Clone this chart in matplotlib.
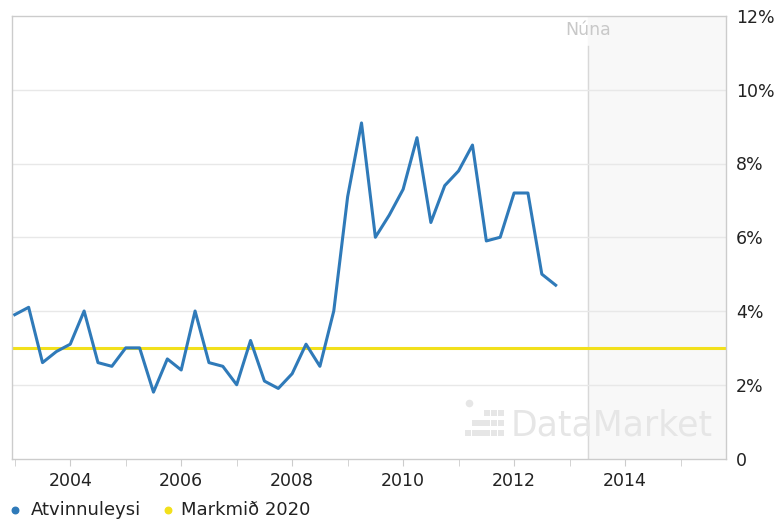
import matplotlib
matplotlib.use("Agg")
import matplotlib.pyplot as plt
import numpy as np

plt.rcParams['font.family'] = ['DejaVu Sans']

start_year = 2003.0
unemployment = [3.9, 4.1, 2.6, 2.9, 3.1, 4.0, 2.6, 2.5,
                3.0, 3.0, 1.8, 2.7, 2.4, 4.0, 2.6, 2.5,
                2.0, 3.2, 2.1, 1.9, 2.3, 3.1, 2.5, 4.0,
                7.1, 9.1, 6.0, 6.6, 7.3, 8.7, 6.4, 7.4,
                7.8, 8.5, 5.9, 6.0, 7.2, 7.2, 5.0, 4.7]
target_2020 = 3.0
now_year = 2013.33
x_range = (2002.95, 2015.82)
y_ticks = [0, 2, 4, 6, 8, 10, 12]
y_labels = ['0', '2%', '4%', '6%', '8%', '10%', '12%']
x_major = [2004, 2006, 2008, 2010, 2012, 2014]
x_minor = [2003, 2005, 2007, 2009, 2011, 2013, 2015]

dates = start_year + 0.25 * np.arange(len(unemployment))

W, H = 776, 521
fig = plt.figure(figsize=(W/100, H/100), dpi=100)
ax = fig.add_axes([12/W, 1 - 458.5/H, (726-12)/W, (458.5-16)/H])

blue = '#2f7ab9'
yellow = '#f2e01b'
text_c = '#222222'

ax.axvspan(now_year, x_range[1], color='#f8f8f8', zorder=0)
ax.plot([now_year, now_year], [0, 11.2], color='#d8d8d8', lw=1, zorder=1)
ax.text(now_year, 11.62, 'Núna', color='#c8c8c8', fontsize=12.5, ha='center', va='center')

for t in y_ticks[1:-1]:
    ax.axhline(t, color='#e8e8e8', lw=1, zorder=1)

# overlay in pixel coordinates for watermark and legend
ov = fig.add_axes([0, 0, 1, 1], zorder=5)
ov.set_xlim(0, W)
ov.set_ylim(H, 0)
ov.axis('off')
ov.patch.set_alpha(0)

wm = '#e6e6e6'
ax.text(511, 425, 'DataMarket', color=wm, fontsize=25, ha='left', va='center', zorder=1,
        transform=ov.transData)
logo = [(487, 413), (494, 413), (501, 413),
        (475, 423), (481, 423), (487, 423), (494, 423), (501, 423),
        (468, 433), (475, 433), (481, 433), (487, 433), (494, 433), (501, 433)]
ax.scatter([p[0] for p in logo], [p[1] for p in logo], marker='s', s=13, linewidths=0,
           color=wm, zorder=1, transform=ov.transData, clip_on=False)
ax.scatter([469], [403], marker='o', s=30, linewidths=0, color=wm, zorder=1,
           transform=ov.transData, clip_on=False)

ax.axhline(target_2020, color=yellow, lw=2.2, zorder=2)
ax.plot(dates, unemployment, color=blue, lw=2.2, zorder=3)

ax.set_xlim(*x_range)
ax.set_ylim(0, 12)

for s in ax.spines.values():
    s.set_color('#cccccc')
    s.set_linewidth(1)

ax.set_xticks(x_major)
ax.set_xticklabels([str(x) for x in x_major])
ax.set_xticks(x_minor, minor=True)
ax.tick_params(axis='x', which='both', length=5, color='#cccccc', labelsize=12.5,
               labelcolor=text_c, pad=5)

ax.yaxis.tick_right()
ax.set_yticks(y_ticks)
ax.set_yticklabels(y_labels)
ax.tick_params(axis='y', length=0, labelsize=12.5, labelcolor=text_c, pad=7)
for lab in ax.get_yticklabels():
    lab.set_horizontalalignment('left')

ly = 510
ov.scatter([15], [ly], s=22, color=blue)
ov.text(31, ly, 'Atvinnuleysi', color=text_c, fontsize=13, va='center', ha='left')
ov.scatter([168], [ly], s=22, color=yellow)
ov.text(181, ly, 'Markmið 2020', color=text_c, fontsize=13, va='center', ha='left')

fig.savefig('out.png', dpi=100, facecolor='white')
